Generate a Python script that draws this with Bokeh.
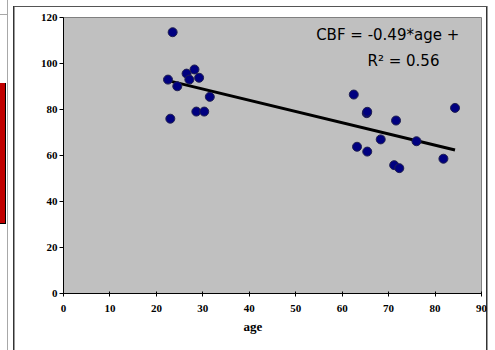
import numpy as np
from bokeh.plotting import figure
from bokeh.models import Label, FixedTicker, Title
from bokeh.embed import file_html
from bokeh.resources import INLINE

# data
age = [23.5, 22.5, 24.5, 26.5, 28.2, 27.1, 29.2, 31.5, 28.6, 30.3, 23.0,
       62.5, 65.3, 65.4, 71.6, 84.3, 68.3, 76.0, 63.2, 65.4, 71.2, 72.3, 81.8]
cbf = [113.6, 93.0, 90.1, 95.6, 97.4, 93.0, 93.8, 85.5, 79.1, 79.1, 76.0,
       86.5, 78.4, 79.0, 75.2, 80.7, 67.0, 66.2, 63.8, 61.7, 55.8, 54.5, 58.6]
x_ticks = [0, 10, 20, 30, 40, 50, 60, 70, 80, 90]
y_ticks = [0, 20, 40, 60, 80, 100, 120]
eq_text = "CBF = -0.49*age +"
r2_text = "R\u00b2 = 0.56"
x_title = "age"

slope, intercept = np.polyfit(age, cbf, 1)
fit_x = [min(age), max(age)]
fit_y = [slope * v + intercept for v in fit_x]

p = figure(width=495, height=350, x_range=(0, 90), y_range=(0, 120),
           output_backend="svg", toolbar_location=None,
           min_border_left=63, min_border_right=14, min_border_top=17,
           min_border_bottom=57, background_fill_color="#c0c0c0",
           border_fill_color="white", border_fill_alpha=0.0)
p.outline_line_color = "#808080"
p.outline_line_width = 1
p.grid.visible = False

# surrounding slide decorations drawn as CSS background layers of the figure
layers = [
    ("#c00000", "0px 83px", "5px 140px"),
    ("#000000", "5px 83px", "1px 141px"),
    ("#000000", "0px 83px", "6px 1px"),
    ("#000000", "0px 223px", "6px 1px"),
    ("#a8a8a8", "7px 0px", "1px 350px"),
    ("#a8a8a8", "0px 14px", "7px 1px"),
    ("#333333", "13px 6px", "1px 344px"),
    ("#999999", "14px 7px", "1px 343px"),
    ("#555555", "13px 6px", "474px 1px"),
    ("#333333", "486px 6px", "1px 344px"),
    ("#999999", "487px 6px", "1px 344px"),
]
p.styles = {
    "background-color": "white",
    "background-image": ", ".join(f"linear-gradient({c}, {c})" for c, _, _ in layers),
    "background-position": ", ".join(pos for _, pos, _ in layers),
    "background-size": ", ".join(sz for _, _, sz in layers),
    "background-repeat": "no-repeat",
}

for ax in (p.xaxis[0], p.yaxis[0]):
    ax.axis_line_color = "black"
    ax.major_tick_line_color = "black"
    ax.minor_tick_line_color = None
    ax.major_label_text_font = "Liberation Serif"
    ax.major_label_text_font_style = "bold"
    ax.major_label_text_font_size = "11px"
    ax.major_label_text_color = "black"
p.xaxis.ticker = FixedTicker(ticks=x_ticks)
p.yaxis.ticker = FixedTicker(ticks=y_ticks)
p.xaxis.major_tick_in = 2
p.xaxis.major_tick_out = 3
p.yaxis.major_tick_in = 0
p.yaxis.major_tick_out = 4
p.xaxis.major_label_standoff = 8
p.yaxis.major_label_standoff = 2

p.add_layout(Title(text=x_title, align="left", offset=180, standoff=5,
                   text_font="Liberation Serif", text_font_style="bold",
                   text_font_size="13px", text_color="black"), "below")

p.line(fit_x, fit_y, line_color="black", line_width=3)
p.scatter(age, cbf, size=9, fill_color="#000080", line_color="#202050", line_width=1)

p.add_layout(Label(x=69.8, y=112.6, text=eq_text, text_align="center",
                   text_baseline="middle", text_font="DejaVu Sans",
                   text_font_size="15px", text_color="black"))
p.add_layout(Label(x=73.2, y=101.3, text=r2_text, text_align="center",
                   text_baseline="middle", text_font="DejaVu Sans",
                   text_font_size="15px", text_color="black"))

open("out.html", "w").write(file_html(p, INLINE))
